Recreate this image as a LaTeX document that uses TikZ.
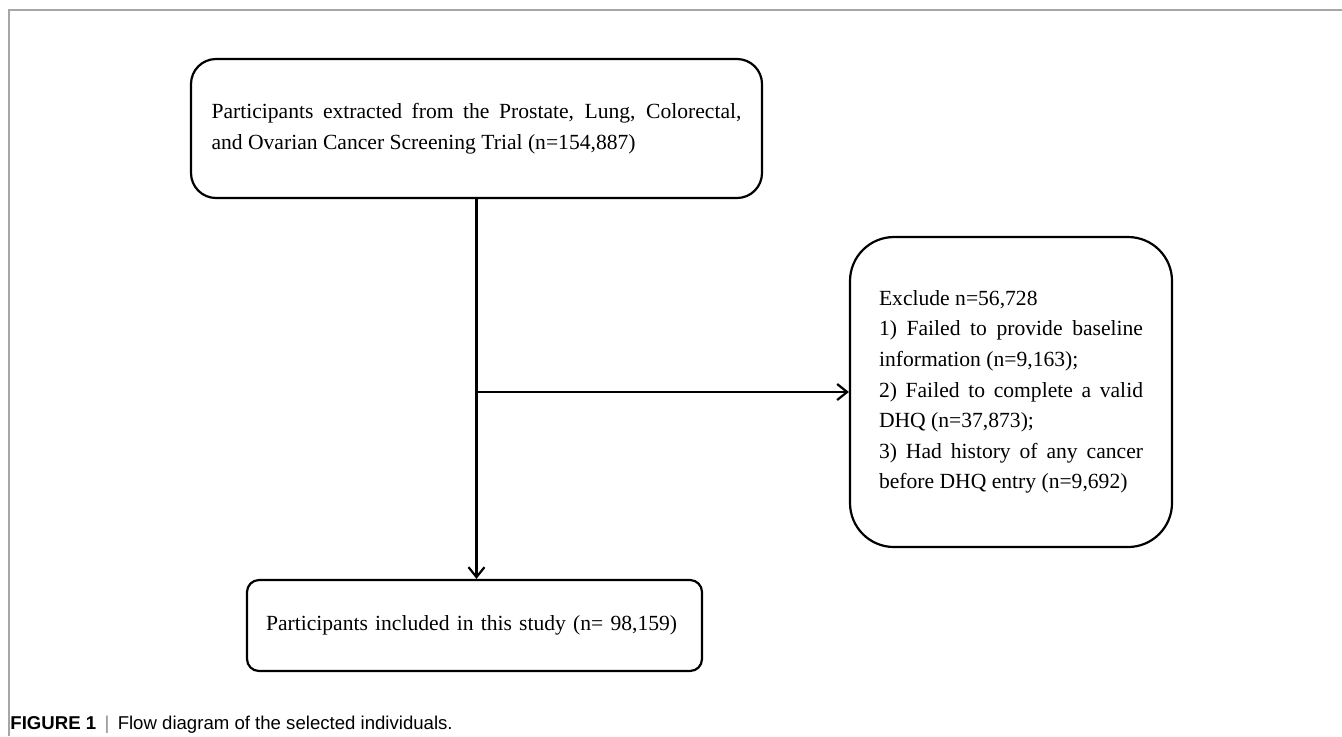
\documentclass[tikz,border=0pt]{standalone}
\usepackage{fontspec}
\setmainfont{Liberation Serif}
\newfontfamily\capfont{Liberation Sans}
\usetikzlibrary{arrows.meta}
\begin{document}
\begin{tikzpicture}[x=0.5pt,y=-0.5pt,
  box/.style={draw=black, line width=1.1pt, font=\fontsize{10.8}{15.3}\selectfont, inner sep=0pt},
  conn/.style={line width=1.1pt, -{Straight Barb[length=5pt,width=8pt,line width=1.1pt]}},
  frameline/.style={draw=black!35, line width=0.7pt}]
\useasboundingbox (0,0) rectangle (1342,736);
\draw[frameline] (1342,10) -- (9,10) -- (9,736);
\node[box, rounded corners=12.5pt, minimum width=285.5pt, minimum height=69.5pt,
      text width=265pt, align=justify] (top) at (476.5,128.5)
  {Participants extracted from the Prostate, Lung, Colorectal,\linebreak and Ovarian Cancer Screening Trial (n=154,887)};
\node[box, rounded corners=22pt, minimum width=161pt, minimum height=155pt,
      text width=132pt, align=justify] (excl) at (1011,392)
  {Exclude n=56,728\\
   1) Failed to provide baseline\linebreak information (n=9,163);\\
   2) Failed to complete a valid\linebreak DHQ (n=37,873);\\
   3) Had history of any cancer\linebreak before DHQ entry (n=9,692)};
\node[box, rounded corners=6pt, minimum width=227.5pt, minimum height=45.5pt,
      text width=208.5pt, align=left] (incl) at (474.5,625.5)
  {Participants included in this study (n= 98,159)};
\coordinate (j) at (top.south |- excl.west);
\draw[conn] (top.south) -- (top.south |- incl.north);
\draw[conn] (j) -- (excl.west);
\node[anchor=base west, inner sep=0pt, font=\capfont\fontsize{9.3}{11}\selectfont] (cap) at (10,729)
  {\textbf{FIGURE 1}\hspace{0.45em}\textcolor{black!45}{|}\hspace{0.45em}Flow diagram of the selected individuals.};
\end{tikzpicture}
\end{document}
